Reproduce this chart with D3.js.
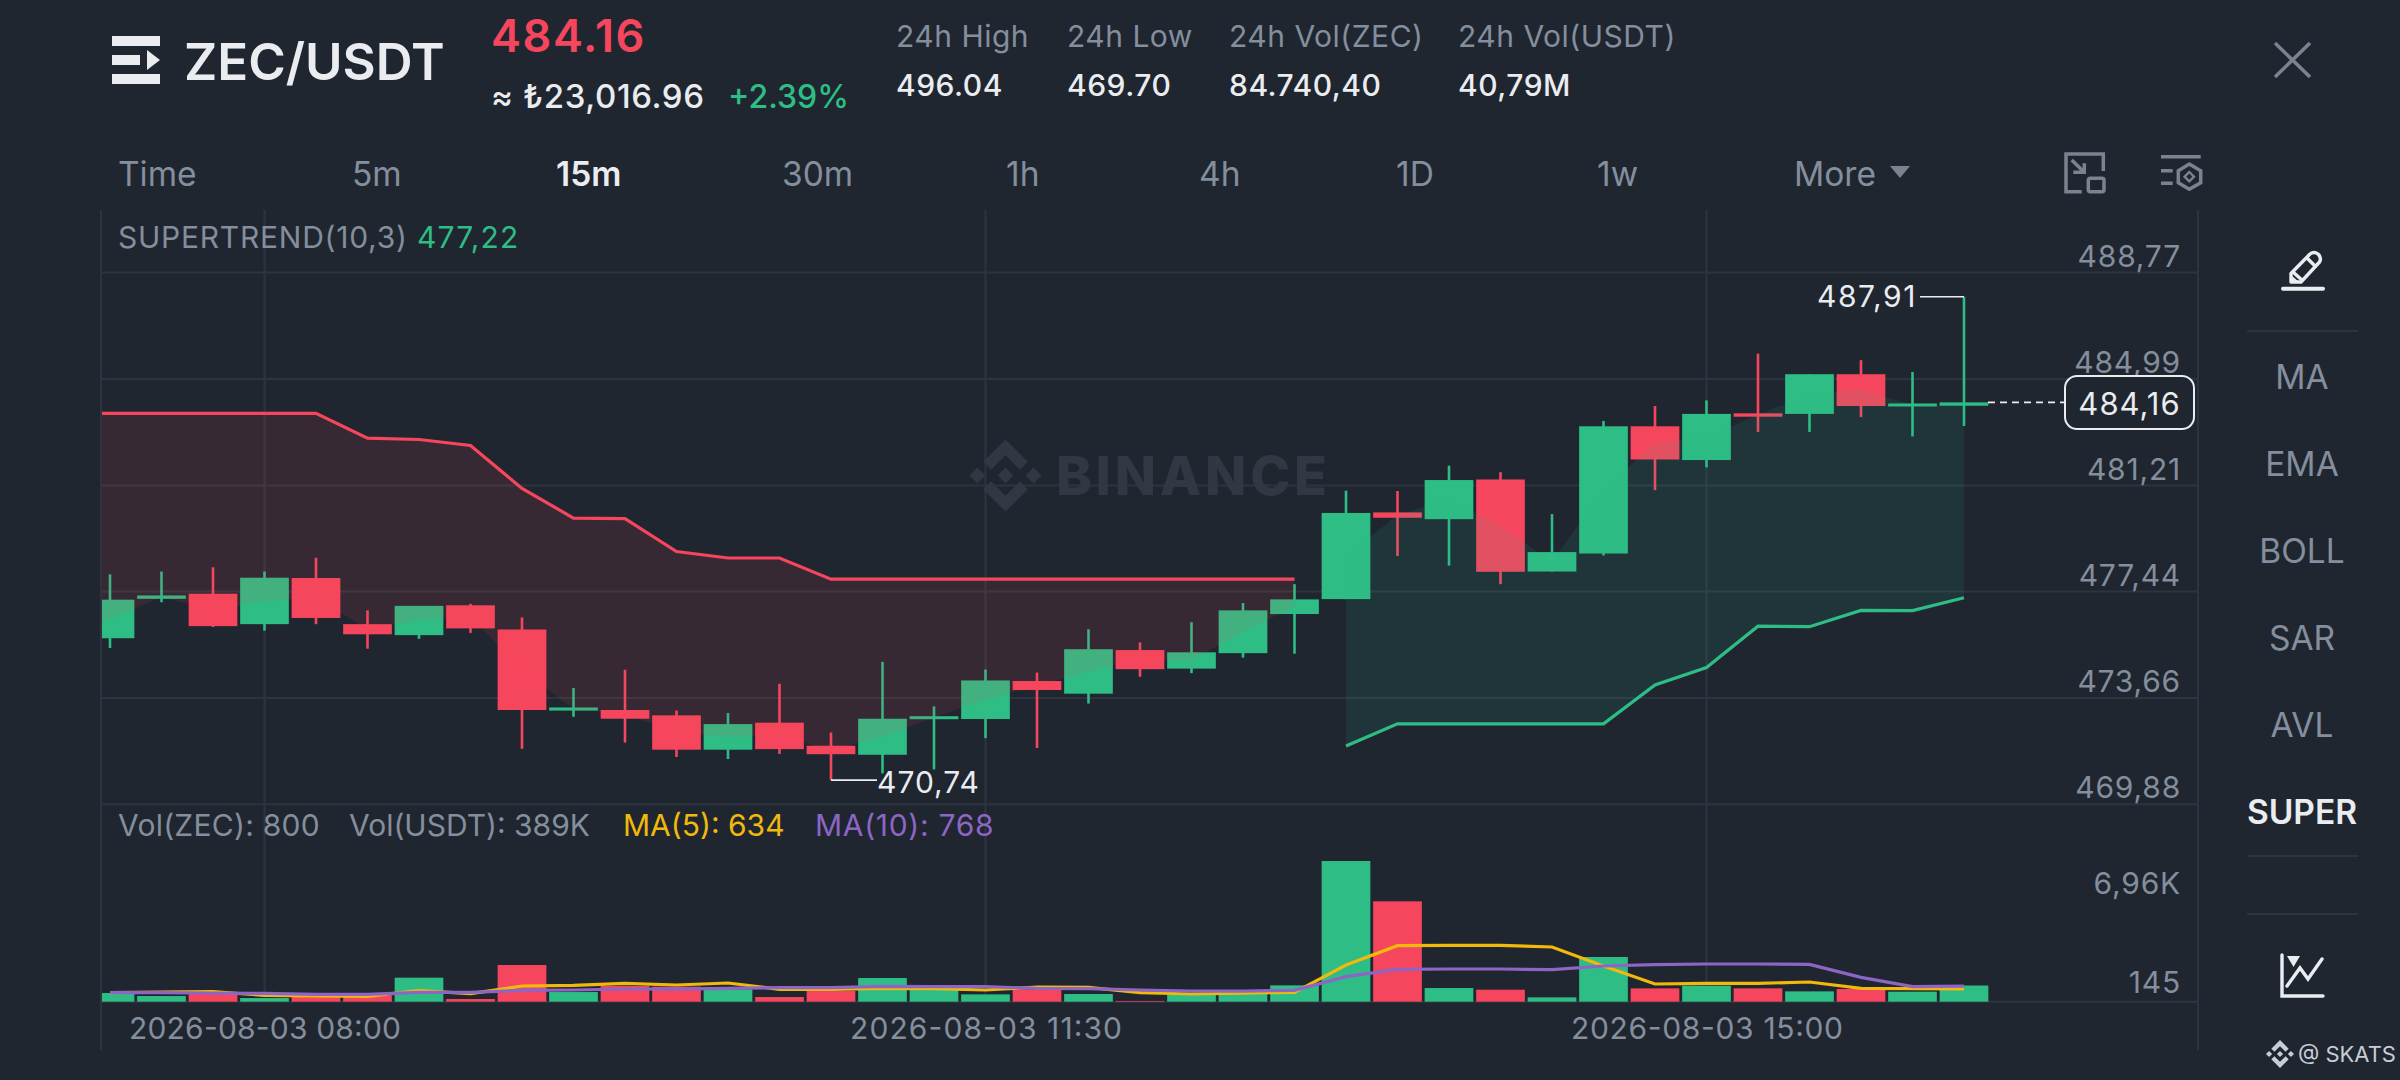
<!DOCTYPE html>
<html>
<head>
<meta charset="utf-8">
<title>ZEC/USDT</title>
<script src="https://cdn.jsdelivr.net/npm/d3@7"></script>
<style>
  html, body { margin: 0; padding: 0; background: #1f2630; }
  svg { display: block; }
  text { font-family: Inter, "Noto Sans", sans-serif; }
</style>
</head>
<body>
<div id="chart"></div>
<script>
"use strict";

// === DATA ===
const firstCandle = new Date(2026, 7, 3, 7, 15);
const lastCandle = new Date(2026, 7, 3, 16, 15);
const timeTicks = [new Date(2026, 7, 3, 8, 0), new Date(2026, 7, 3, 11, 30), new Date(2026, 7, 3, 15, 0)];

const opens = [475.78, 477.18, 477.36, 476.28, 477.92, 476.28, 475.89, 476.95, 476.09, 473.21, 473.23, 473.04, 471.82, 472.78, 471.96, 471.64, 472.91, 472.91, 474.26, 473.81, 475.36, 474.70, 475.25, 476.64, 477.17, 480.25, 480.01, 481.42, 478.15, 478.79, 483.31, 482.11, 483.77, 483.75, 485.16, 484.03, 484.04];
const closes = [477.15, 477.30, 476.21, 477.93, 476.50, 475.92, 476.93, 476.13, 473.23, 473.32, 472.92, 471.82, 472.73, 471.84, 471.66, 472.92, 473.01, 474.28, 473.94, 475.39, 474.68, 475.28, 476.77, 477.16, 480.23, 480.06, 481.40, 478.14, 478.84, 483.31, 482.13, 483.75, 483.65, 485.16, 484.03, 484.12, 484.16];
const highs = [478.05, 478.15, 478.30, 478.15, 478.64, 476.77, 476.93, 477.00, 476.52, 474.01, 474.66, 473.21, 473.12, 474.16, 472.43, 474.94, 473.36, 474.67, 474.56, 476.10, 475.63, 476.35, 477.03, 477.70, 481.02, 481.01, 481.91, 481.68, 480.19, 483.50, 484.03, 484.23, 485.89, 485.16, 485.66, 485.24, 487.91];
const lows = [475.43, 477.06, 476.18, 476.05, 476.28, 475.41, 475.76, 475.97, 471.85, 472.99, 472.07, 471.56, 471.49, 471.67, 470.74, 470.98, 471.12, 472.23, 471.88, 473.46, 474.41, 474.54, 475.09, 475.23, 477.17, 478.70, 478.36, 477.70, 478.15, 478.72, 481.04, 481.85, 483.11, 483.11, 483.64, 482.95, 483.32];

// supertrend: first 24 candles are the red band, the rest the green band
const superDown = [483.77, 483.77, 483.77, 483.77, 483.77, 482.89, 482.84, 482.63, 481.10, 480.05, 480.03, 478.86, 478.63, 478.63, 477.88, 477.88, 477.88, 477.88, 477.88, 477.88, 477.88, 477.88, 477.88, 477.88];
const superUp = [471.95, 472.74, 472.74, 472.74, 472.74, 472.74, 474.12, 474.74, 476.21, 476.19, 476.77, 476.76, 477.22];
// the candle just off the left edge, the band runs in from it
const offscreenSuper = 483.77;
const offscreenMid = 476.02;

const volumes = [429, 280, 462, 181, 313, 297, 1188, 132, 1815, 478, 775, 742, 610, 231, 528, 1171, 577, 363, 610, 380, 33, 346, 396, 808, 6960, 4966, 676, 594, 214, 2211, 660, 792, 660, 511, 627, 495, 800];
const ma5 = [446, 479, 495, 314, 281, 264, 545, 396, 776, 809, 908, 825, 924, 611, 611, 660, 644, 578, 726, 710, 446, 380, 429, 462, 1815, 2772, 2789, 2789, 2706, 1766, 875, 908, 908, 974, 660, 644, 634];
const ma10 = [446, 446, 429, 413, 363, 363, 462, 462, 561, 578, 627, 627, 660, 693, 693, 759, 743, 743, 660, 644, 578, 528, 528, 561, 1238, 1601, 1617, 1617, 1584, 1766, 1832, 1865, 1865, 1848, 1205, 743, 768];

const priceTicks = [488.77, 484.99, 481.21, 477.44, 473.66, 469.88];
const volumeTicks = [6960, 145];
const lastPrice = 484.16;
const highLabel = 487.91;
const lowLabel = 470.74;

const tabLabels = ["Time", "5m", "15m", "30m", "1h", "4h", "1D", "1w", "More"];
const sideLabels = ["MA", "EMA", "BOLL", "SAR", "AVL", "SUPER"];
const statNames = ["24h High", "24h Low", "24h Vol(ZEC)", "24h Vol(USDT)"];
const statValues = ["496.04", "469.70", "84.740,40", "40,79M"];

// === COLOURS ===
const bg = "#1f2630", up = "#2ebd85", down = "#f6465d";
const white = "#eaecef", grey = "#848e9c", gridCol = "#2e343f", iconCol = "#7b8390";
const yellow = "#f0b90b", purple = "#8d65c5";

// === SVG SETUP ===
const width = 2400, height = 1080;
const plot = { left: 102, right: 2198, top: 210, bottom: 1050 };

const svg = d3.select("#chart").append("svg")
  .attr("width", width)
  .attr("height", height);

svg.append("rect").attr("width", width).attr("height", height).attr("fill", bg);

svg.append("clipPath").attr("id", "plot-clip").append("rect")
  .attr("x", plot.left).attr("y", plot.top)
  .attr("width", plot.right - plot.left).attr("height", plot.bottom - plot.top);

// === SCALES ===
const xTime = d3.scaleTime().domain([firstCandle, lastCandle]).range([110, 1964]);
const x = i => xTime(d3.timeMinute.offset(firstCandle, i * 15));
const bodyW = 48.7;

const yPrice = d3.scaleLinear().domain([469.88, 488.77]).range([804.3, 272.6]);
const yVol = d3.scaleLinear().domain([0, 6960]).range([1001.7, 861]);

function label(parent, tx, ty, str, size, fill, weight, anchor, spacing) {
  return parent.append("text")
    .attr("x", tx).attr("y", ty)
    .attr("font-size", size)
    .attr("fill", fill)
    .attr("font-weight", weight || 400)
    .attr("text-anchor", anchor || "start")
    .attr("letter-spacing", spacing || 0)
    .text(str);
}
const comma = v => d3.format(".2f")(v).replace(".", ",");

// === GRID ===
const grid = svg.append("g").attr("stroke", gridCol).attr("stroke-width", 2);
priceTicks.forEach(p => {
  grid.append("line").attr("x1", plot.left).attr("x2", plot.right)
    .attr("y1", yPrice(p)).attr("y2", yPrice(p));
});
grid.append("line").attr("x1", plot.left).attr("x2", plot.right)
  .attr("y1", yVol(0)).attr("y2", yVol(0));
timeTicks.forEach(t => {
  grid.append("line").attr("x1", xTime(t)).attr("x2", xTime(t))
    .attr("y1", plot.top).attr("y2", yVol(0));
});
[plot.left - 1, plot.right].forEach(bx => {
  grid.append("line").attr("x1", bx).attr("x2", bx)
    .attr("y1", plot.top).attr("y2", plot.bottom);
});

// === WATERMARK ===
function binanceLogo(parent, cx, cy, s, fill) {
  const g = parent.append("g").attr("transform", `translate(${cx},${cy}) scale(${s})`).attr("fill", fill);
  const shapes = [
    [[0, -1], [0.62, -0.38], [0.4, -0.16], [0, -0.56], [-0.4, -0.16], [-0.62, -0.38]],
    [[0, 1], [0.62, 0.38], [0.4, 0.16], [0, 0.56], [-0.4, 0.16], [-0.62, 0.38]],
    [[0, -0.22], [0.22, 0], [0, 0.22], [-0.22, 0]],
    [[-0.78, -0.22], [-0.56, 0], [-0.78, 0.22], [-1, 0]],
    [[0.78, -0.22], [1, 0], [0.78, 0.22], [0.56, 0]]
  ];
  shapes.forEach(pts => g.append("polygon").attr("points", pts.map(p => p.join(",")).join(" ")));
}
binanceLogo(svg, 1005.5, 475.5, 36, "#323843");
label(svg, 1056, 495, "BINANCE", 54, "#323843", 800).attr("textLength", 271);

// === CANDLES ===
const chart = svg.append("g").attr("clip-path", "url(#plot-clip)");
const idx = d3.range(opens.length);
const colour = i => closes[i] >= opens[i] ? up : down;

chart.selectAll("line.wick").data(idx).enter().append("line")
  .attr("class", "wick")
  .attr("x1", i => x(i)).attr("x2", i => x(i))
  .attr("y1", i => yPrice(highs[i])).attr("y2", i => yPrice(lows[i]))
  .attr("stroke", colour).attr("stroke-width", 2.6);

chart.selectAll("rect.body").data(idx).enter().append("rect")
  .attr("class", "body")
  .attr("x", i => x(i) - bodyW / 2)
  .attr("width", bodyW)
  .attr("y", i => yPrice(Math.max(opens[i], closes[i])))
  .attr("height", i => Math.max(3, Math.abs(yPrice(opens[i]) - yPrice(closes[i]))))
  .attr("fill", colour);

// === SUPERTREND ===
const mid = i => i < 0 ? offscreenMid : (opens[i] + closes[i]) / 2;
const downIdx = [-1].concat(superDown.map((d, i) => i));
const upIdx = superUp.map((d, i) => i + superDown.length);
const downVal = i => i < 0 ? offscreenSuper : superDown[i];
const upVal = i => superUp[i - superDown.length];

chart.append("path")
  .attr("d", d3.area().x(x).y0(i => yPrice(mid(i))).y1(i => yPrice(downVal(i)))(downIdx))
  .attr("fill", down).attr("fill-opacity", 0.11);
chart.append("path")
  .attr("d", d3.area().x(x).y0(i => yPrice(mid(i))).y1(i => yPrice(upVal(i)))(upIdx))
  .attr("fill", up).attr("fill-opacity", 0.1);

chart.append("path")
  .attr("d", d3.line().x(x).y(i => yPrice(downVal(i)))(downIdx))
  .attr("fill", "none").attr("stroke", down).attr("stroke-width", 3.2);
chart.append("path")
  .attr("d", d3.line().x(x).y(i => yPrice(upVal(i)))(upIdx))
  .attr("fill", "none").attr("stroke", up).attr("stroke-width", 3.2);

// === VOLUME ===
chart.selectAll("rect.vol").data(idx).enter().append("rect")
  .attr("class", "vol")
  .attr("x", i => x(i) - bodyW / 2)
  .attr("width", bodyW)
  .attr("y", i => yVol(volumes[i]))
  .attr("height", i => yVol(0) - yVol(volumes[i]))
  .attr("fill", colour);

const maLine = vals => d3.line().x((d, i) => x(i)).y(d => yVol(d))(vals);
chart.append("path").attr("d", maLine(ma5)).attr("fill", "none").attr("stroke", yellow).attr("stroke-width", 3.2);
chart.append("path").attr("d", maLine(ma10)).attr("fill", "none").attr("stroke", purple).attr("stroke-width", 3.2);

// === AXES ===
const priceAxis = svg.append("g")
  .attr("transform", "translate(2181,-16)")
  .call(d3.axisLeft(yPrice).tickValues(priceTicks).tickSize(0).tickPadding(0).tickFormat(comma));
const volAxis = svg.append("g")
  .attr("transform", "translate(2181,0)")
  .call(d3.axisLeft(yVol).tickValues(volumeTicks).tickSize(0).tickPadding(0)
    .tickFormat(d => d >= 1000 ? comma(d / 1000) + "K" : d));
volAxis.selectAll("text").attr("dy", d => d >= 1000 ? 32 : -6.5);
const timeAxis = svg.append("g")
  .attr("transform", "translate(0,1018)")
  .call(d3.axisBottom(xTime).tickValues(timeTicks).tickSize(0).tickPadding(0)
    .tickFormat(d3.timeFormat("%Y-%m-%d %H:%M")));
[priceAxis, volAxis, timeAxis].forEach(a => {
  a.select(".domain").remove();
  a.attr("font-family", null);
  a.selectAll("text").attr("font-size", 30).attr("fill", grey);
});
priceAxis.selectAll("text").attr("letter-spacing", 0.8);
volAxis.selectAll("text").attr("letter-spacing", 0.8);
timeAxis.selectAll("text").attr("textLength", 272);

// === HIGH / LOW / LAST MARKERS ===
const iHigh = lows.length - 1, iLow = 14;
svg.append("line").attr("x1", 1920).attr("x2", x(iHigh))
  .attr("y1", yPrice(highLabel)).attr("y2", yPrice(highLabel))
  .attr("stroke", white).attr("stroke-width", 1.6);
label(svg, 1917, yPrice(highLabel) + 10.5, comma(highLabel), 30, white, 400, "end", 1.6);
svg.append("line").attr("x1", x(iLow)).attr("x2", 877)
  .attr("y1", yPrice(lowLabel)).attr("y2", yPrice(lowLabel))
  .attr("stroke", white).attr("stroke-width", 1.6);
label(svg, 877, yPrice(lowLabel) + 13, comma(lowLabel), 30, white, 400, "start", 1);

svg.append("line").attr("x1", 1988).attr("x2", 2065)
  .attr("y1", yPrice(lastPrice)).attr("y2", yPrice(lastPrice))
  .attr("stroke", white).attr("stroke-width", 1.6).attr("stroke-dasharray", "7 5");
svg.append("rect").attr("x", 2065).attr("y", 376).attr("width", 129).attr("height", 53).attr("rx", 12)
  .attr("fill", bg).attr("stroke", white).attr("stroke-width", 2);
label(svg, 2129.5, 414.5, comma(lastPrice), 31, white, 400, "middle", 1);

// === HEADER ===
const menu = svg.append("g").attr("fill", white);
menu.append("rect").attr("x", 112).attr("y", 36).attr("width", 48).attr("height", 10);
menu.append("rect").attr("x", 112).attr("y", 55).attr("width", 28).attr("height", 10);
menu.append("polygon").attr("points", "147,50 160,60 147,70");
menu.append("rect").attr("x", 112).attr("y", 74).attr("width", 48).attr("height", 10);

label(svg, 184, 80, "ZEC/USDT", 51, white, 600);
label(svg, 491, 52, "484.16", 45, down, 600, "start", 1.6);
label(svg, 491, 108, "≈ ₺23,016.96", 33, white, 500, "start", 0.6);
label(svg, 728, 108, "+2.39%", 32, up, 500);

const statX = [896, 1067, 1229, 1458];
statNames.forEach((s, i) => {
  label(svg, statX[i], 47, s, 30, grey, 400, "start", 0.5);
  label(svg, statX[i], 96, statValues[i], 30, white, 500, "start", 0.5);
});

svg.append("path").attr("d", "M2275,43 L2310,77 M2310,43 L2275,77")
  .attr("stroke", iconCol).attr("stroke-width", 3.5).attr("fill", "none");

// === TABS ===
const tabX = [118, 352, 556, 782, 1006, 1199, 1396, 1597, 1794];
tabLabels.forEach((s, i) => {
  const on = s === "15m";
  label(svg, tabX[i], 186, s, 33.5, on ? white : grey, on ? 600 : 400);
});
svg.append("polygon").attr("points", "1890,166 1910,166 1900,178").attr("fill", iconCol);

const ic = svg.append("g").attr("fill", "none").attr("stroke", iconCol).attr("stroke-width", 3.5);
ic.append("path").attr("d", "M2103.3,171 L2103.3,154 L2066,154 L2066,191.7 L2081.7,191.7");
ic.append("rect").attr("x", 2088.3).attr("y", 178.3).attr("width", 15.7).attr("height", 13.4).attr("rx", 2);
ic.append("path").attr("d", "M2071.7,160 L2084.3,172.3 M2073.3,172.3 L2084.3,172.3 L2084.3,163.3");
ic.append("path").attr("d", "M2161,156.7 L2200.7,156.7 M2161,170.7 L2172.7,170.7 M2161,183.3 L2172.7,183.3");
ic.append("path").attr("d", "M2189.3,164 L2200.7,170.7 L2200.7,182.7 L2189.3,189.3 L2178.3,182.7 L2178.3,170.7 Z");
ic.append("path").attr("d", "M2189.3,172 L2194,176.7 L2189.3,181.4 L2184.6,176.7 Z").attr("stroke-width", 2.4);

// === LEGENDS ===
label(svg, 118, 248, "SUPERTREND(10,3)", 30, grey, 400, "start", 0.75);
label(svg, 417, 248, "477,22", 30, up, 400, "start", 1.2);
label(svg, 118, 836, "Vol(ZEC): 800", 30, grey, 400, "start", 0.25);
label(svg, 349, 836, "Vol(USDT): 389K", 30, grey);
label(svg, 623, 836, "MA(5): 634", 30, yellow);
label(svg, 815, 836, "MA(10): 768", 30, purple, 400, "start", 0.7);

// === SIDEBAR ===
const side = svg.append("g");
const sideY = [389, 476, 563, 650, 737, 824];
sideLabels.forEach((s, i) => {
  const on = s === "SUPER";
  label(side, 2302, sideY[i], s, 33.5, on ? white : grey, on ? 600 : 400, "middle");
});
[331, 856, 914].forEach(dy => {
  side.append("line").attr("x1", 2247).attr("x2", 2358).attr("y1", dy).attr("y2", dy)
    .attr("stroke", gridCol).attr("stroke-width", 2);
});

const pen = svg.append("g").attr("fill", "none").attr("stroke", white).attr("stroke-width", 3.4).attr("stroke-linejoin", "round");
pen.append("path").attr("d", "M2291,282 L2291,273.5 L2310,254 Q2314,251 2318,254 Q2322,258 2319.5,262 L2301,282 Z");
pen.append("path").attr("d", "M2306,257 L2316,267");
pen.append("path").attr("d", "M2293,272 L2303,281");
svg.append("polygon").attr("points", "2291,282 2291,275 2299,282").attr("fill", white);
pen.append("path").attr("d", "M2283,288.7 L2323,288.7").attr("stroke-width", 4).attr("stroke-linecap", "round");

const ci = svg.append("g").attr("fill", "none").attr("stroke", white).attr("stroke-width", 3.4).attr("stroke-linecap", "round");
ci.append("path").attr("d", "M2282,955 L2282,996 L2323,996");
ci.append("path").attr("d", "M2287,986 L2300,968 L2308,979 L2322,959");
svg.append("polygon").attr("points", "2287,956 2300,956 2293.5,967").attr("fill", white);

// === FOOTER TAG ===
binanceLogo(svg, 2280, 1054, 14, "#c9cdd4");
label(svg, 2298, 1062, "@ SKATS", 22, "#c9cdd4");
</script>
</body>
</html>
